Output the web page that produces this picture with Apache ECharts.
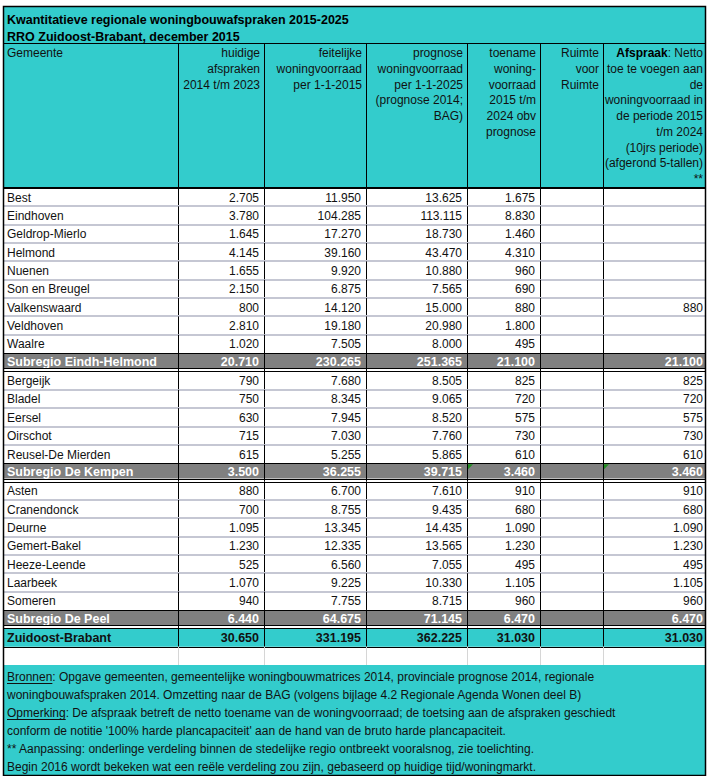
<!DOCTYPE html>
<html><head><meta charset="utf-8">
<script src="https://cdn.jsdelivr.net/npm/echarts@6/dist/echarts.min.js"></script>
<style>html,body{margin:0;padding:0;background:#fff}#chart{width:712px;height:776px}</style>
</head><body><div id="chart"></div>
<script>
// ---------- DATA ----------
const titleLines = [
  'Kwantitatieve regionale woningbouwafspraken 2015-2025',
  'RRO Zuidoost-Brabant, december 2015'
];
const columnHeaders = [
  ['Gemeente'],
  ['huidige', 'afspraken', '2014 t/m 2023'],
  ['feitelijke', 'woningvoorraad', 'per 1-1-2015'],
  ['prognose', 'woningvoorraad', 'per 1-1-2025', '(prognose 2014;', 'BAG)'],
  ['toename', 'woning-', 'voorraad', '2015 t/m', '2024 obv', 'prognose'],
  ['Ruimte', 'voor', 'Ruimte'],
  ['{b|Afspraak}: Netto', 'toe te voegen aan', 'de', 'woningvoorraad in', 'de periode 2015', 't/m 2024', '(10jrs periode)', '(afgerond 5-tallen)', '**']
];
const gemeenten = [
  'Best', 'Eindhoven', 'Geldrop-Mierlo', 'Helmond', 'Nuenen', 'Son en Breugel', 'Valkenswaard', 'Veldhoven', 'Waalre',
  'Subregio Eindh-Helmond',
  'Bergeijk', 'Bladel', 'Eersel', 'Oirschot', 'Reusel-De Mierden',
  'Subregio De Kempen',
  'Asten', 'Cranendonck', 'Deurne', 'Gemert-Bakel', 'Heeze-Leende', 'Laarbeek', 'Someren',
  'Subregio De Peel',
  'Zuidoost-Brabant',
  ''
];
const huidigeAfspraken = [2705, 3780, 1645, 4145, 1655, 2150, 800, 2810, 1020, 20710,
  790, 750, 630, 715, 615, 3500,
  880, 700, 1095, 1230, 525, 1070, 940, 6440, 30650, null];
const feitelijkeVoorraad = [11950, 104285, 17270, 39160, 9920, 6875, 14120, 19180, 7505, 230265,
  7680, 8345, 7945, 7030, 5255, 36255,
  6700, 8755, 13345, 12335, 6560, 9225, 7755, 64675, 331195, null];
const prognoseVoorraad = [13625, 113115, 18730, 43470, 10880, 7565, 15000, 20980, 8000, 251365,
  8505, 9065, 8520, 7760, 5865, 39715,
  7610, 9435, 14435, 13565, 7055, 10330, 8715, 71145, 362225, null];
const toename = [1675, 8830, 1460, 4310, 960, 690, 880, 1800, 495, 21100,
  825, 720, 575, 730, 610, 3460,
  910, 680, 1090, 1230, 495, 1105, 960, 6470, 31030, null];
const ruimteVoorRuimte = [null, null, null, null, null, null, null, null, null, null,
  null, null, null, null, null, null,
  null, null, null, null, null, null, null, null, null, null];
const afspraak = [null, null, null, null, null, null, 880, null, null, 21100,
  825, 720, 575, 730, 610, 3460,
  910, 680, 1090, 1230, 495, 1105, 960, 6470, 31030, null];
const commentMarks = [['Subregio De Kempen', 4], ['Subregio De Kempen', 6]];
const footnotes = [
  ['Bronnen', ': Opgave gemeenten, gemeentelijke woningbouwmatrices 2014, provinciale prognose 2014, regionale'],
  ['', 'woningbouwafspraken 2014. Omzetting naar de BAG (volgens bijlage 4.2 Regionale Agenda Wonen deel B)'],
  ['Opmerking', ': De afspraak betreft de netto toename van de woningvoorraad; de toetsing aan de afspraken geschiedt'],
  ['', "conform de notitie '100% harde plancapaciteit' aan de hand van de bruto harde plancapaciteit."],
  ['', '** Aanpassing: onderlinge verdeling binnen de stedelijke regio ontbreekt vooralsnog, zie toelichting.'],
  ['', 'Begin 2016 wordt bekeken wat een reële verdeling zou zijn, gebaseerd op huidige tijd/woningmarkt.']
];
const valueColumns = [huidigeAfspraken, feitelijkeVoorraad, prognoseVoorraad, toename, ruimteVoorRuimte, afspraak];

// ---------- LAYOUT / STYLE ----------
const colEdges = [3, 178, 264, 366, 467, 540, 603, 705];
const padRight = [0, 5, 5, 5, 5, 5, 2];
const TOP = 6, HEADER_TOP = 43, BODY_TOP = 188, BODY_BOTTOM = 665, BOTTOM = 775;
const TEAL = '#33cccc', GRAY = '#808080', SEP = '#c5c7d3', INK = '#111';
const FONT = "'Liberation Sans', Arial, sans-serif";

function fmt(v) { return v == null ? '' : String(v).replace(/\B(?=(\d{3})+(?!\d))/g, '.'); }
function kindOf(r) {
  const n = gemeenten[r];
  if (n === '') return 'empty';
  if (n.indexOf('Subregio') === 0) return 'sub';
  if (n === 'Zuidoost-Brabant') return 'total';
  return 'muni';
}
function geom(api, r) {
  const c = api.coord([colEdges[0], r]);
  const h = api.size([0, 1])[1];
  return { top: c[1] - h / 2, h: h, cy: c[1] };
}
function xAt(api, v, r) { return api.coord([v, r])[0]; }
function px(v) { return Math.round(v) + 0.5; }

function renderCells(params, api) {
  const r = api.value(1);
  const k = kindOf(r);
  const g = geom(api, r);
  const L = xAt(api, colEdges[0], r), R = xAt(api, colEdges[7], r);
  const children = [];
  if (k === 'sub') children.push({ type: 'rect', shape: { x: L, y: g.top, width: R - L, height: g.h - 3 }, style: { fill: GRAY } });
  if (k === 'total') children.push({ type: 'rect', shape: { x: L, y: g.top, width: R - L, height: g.h }, style: { fill: TEAL } });
  const bold = k === 'sub' || k === 'total';
  const color = k === 'sub' ? '#fff' : INK;
  const font = (bold ? 'bold 12.5px ' : '12px ') + FONT;
  const ty = g.cy - (k === 'sub' ? 1 : 0) + 0.5;
  children.push({ type: 'text', x: L + 4, y: ty,
    style: { text: gemeenten[r], fill: color, font: font, align: 'left', textAlign: 'left', verticalAlign: 'middle', textVerticalAlign: 'middle' } });
  for (let c = 1; c <= 6; c++) {
    const v = valueColumns[c - 1][r];
    if (v == null) continue;
    const xr = xAt(api, colEdges[c + 1], r) - padRight[c];
    children.push({ type: 'text', x: xr, y: ty,
      style: { text: fmt(v), fill: color, font: font, align: 'right', textAlign: 'right', verticalAlign: 'middle', textVerticalAlign: 'middle' } });
  }
  return { type: 'group', children: children };
}

function renderRules(params, api) {
  const r = api.value(1);
  const k = kindOf(r);
  const prev = r > 0 ? kindOf(r - 1) : 'header';
  const g = geom(api, r);
  const L = xAt(api, colEdges[0], r), R = xAt(api, colEdges[7], r);
  const top = g.top, bot = g.top + g.h;
  const ch = [];
  const hline = (y, color, w) => ch.push({ type: 'line', shape: { x1: L, y1: y, x2: R, y2: y }, style: { stroke: color, lineWidth: w } });
  if (k === 'muni' && prev === 'muni') hline(Math.round(top), SEP, 2);
  if (k === 'sub') { hline(px(top), '#000', 1); hline(px(bot - 3), '#000', 1); hline(px(bot), '#000', 1.2); }
  if (k === 'total') { hline(px(top), '#000', 1.2); hline(px(bot), '#000', 1.2); }
  for (let c = 1; c <= 6; c++) {
    const x = px(xAt(api, colEdges[c], r));
    ch.push({ type: 'line', shape: { x1: x, y1: top, x2: x, y2: bot }, style: { stroke: k === 'empty' ? '#d6d6d6' : '#000', lineWidth: 1 } });
  }
  commentMarks.forEach(m => {
    if (m[0] === gemeenten[r]) {
      const x = xAt(api, colEdges[m[1]], r) + 1;
      ch.push({ type: 'polygon', shape: { points: [[x, top + 1], [x + 5, top + 1], [x, top + 6]] }, style: { fill: '#1f8f1f' } });
    }
  });
  return { type: 'group', children: ch };
}

// ---------- measure helper ----------
const mctx = document.createElement('canvas').getContext('2d');
function tw(text, font) { mctx.font = font; return mctx.measureText(text).width; }

// ---------- GRAPHIC (title, header, footer) ----------
const graphics = [];
graphics.push({ type: 'rect', shape: { x: colEdges[0], y: TOP, width: colEdges[7] - colEdges[0], height: BODY_TOP - TOP }, style: { fill: TEAL }, z: 0 });
graphics.push({ type: 'rect', shape: { x: colEdges[0], y: BODY_BOTTOM, width: colEdges[7] - colEdges[0], height: BOTTOM - BODY_BOTTOM }, style: { fill: TEAL }, z: 0 });
titleLines.forEach((t, i) => graphics.push({ type: 'text', x: 7, y: 20 + i * 16.7,
  style: { text: t, font: 'bold 12.5px ' + FONT, fill: '#000', align: 'left', textAlign: 'left', verticalAlign: 'middle', textVerticalAlign: 'middle' }, z: 5 }));
graphics.push({ type: 'line', shape: { x1: colEdges[0], y1: HEADER_TOP + 0.5, x2: colEdges[7], y2: HEADER_TOP + 0.5 }, style: { stroke: '#000', lineWidth: 1 }, z: 5 });
for (let c = 1; c <= 6; c++) {
  graphics.push({ type: 'line', shape: { x1: colEdges[c] + 0.5, y1: HEADER_TOP, x2: colEdges[c] + 0.5, y2: BODY_TOP }, style: { stroke: '#000', lineWidth: 1 }, z: 5 });
}
graphics.push({ type: 'line', shape: { x1: colEdges[0], y1: BODY_TOP, x2: colEdges[7], y2: BODY_TOP }, style: { stroke: '#000', lineWidth: 2 }, z: 5 });
columnHeaders.forEach((lines, c) => {
  lines.forEach((t, i) => {
    const left = c === 0;
    const x = left ? colEdges[0] + 4 : colEdges[c + 1] - (c === 6 ? 2 : 4);
    graphics.push({ type: 'text', x: x, y: 53 + i * 15.75,
      style: { text: t, font: '12px ' + FONT, fill: INK, align: left ? 'left' : 'right', textAlign: left ? 'left' : 'right',
        verticalAlign: 'middle', textVerticalAlign: 'middle',
        rich: { b: { fontWeight: 'bold', fontSize: 12, fontFamily: FONT, fill: '#000' } } }, z: 5 });
  });
});
footnotes.forEach((f, i) => {
  const y = 677 + i * 18;
  const font = '12px ' + FONT;
  graphics.push({ type: 'text', x: 7, y: y,
    style: { text: f[0] + f[1], font: font, fill: INK, align: 'left', textAlign: 'left', verticalAlign: 'middle', textVerticalAlign: 'middle' }, z: 5 });
  if (f[0]) {
    const w = tw(f[0], font);
    graphics.push({ type: 'line', shape: { x1: 7, y1: y + 6.5, x2: 7 + w, y2: y + 6.5 }, style: { stroke: INK, lineWidth: 1 }, z: 5 });
  }
});
graphics.push({ type: 'rect', shape: { x: colEdges[0] + 0.5, y: TOP + 0.5, width: colEdges[7] - colEdges[0], height: BOTTOM - TOP }, style: { fill: 'none', stroke: '#000', lineWidth: 1.5 }, z: 20 });

// ---------- CHART ----------
const chart = echarts.init(document.getElementById('chart'), null, { renderer: 'svg', width: 712, height: 776 });
const rowData = gemeenten.map((g, i) => [colEdges[0], i]);
chart.setOption({
  animation: false,
  backgroundColor: '#fff',
  grid: { left: colEdges[0], width: colEdges[7] - colEdges[0], top: BODY_TOP, height: BODY_BOTTOM - BODY_TOP },
  xAxis: { type: 'value', min: colEdges[0], max: colEdges[7], show: false },
  yAxis: { type: 'category', data: gemeenten.map((g, i) => g || ('row' + i)), inverse: true, show: false },
  series: [
    { type: 'custom', name: 'cells', data: rowData, encode: { x: 0, y: 1 }, renderItem: renderCells, clip: false, z: 2, silent: true },
    { type: 'custom', name: 'rules', data: rowData, encode: { x: 0, y: 1 }, renderItem: renderRules, clip: false, z: 3, silent: true }
  ],
  graphic: { elements: graphics }
});
</script>
</body></html>
